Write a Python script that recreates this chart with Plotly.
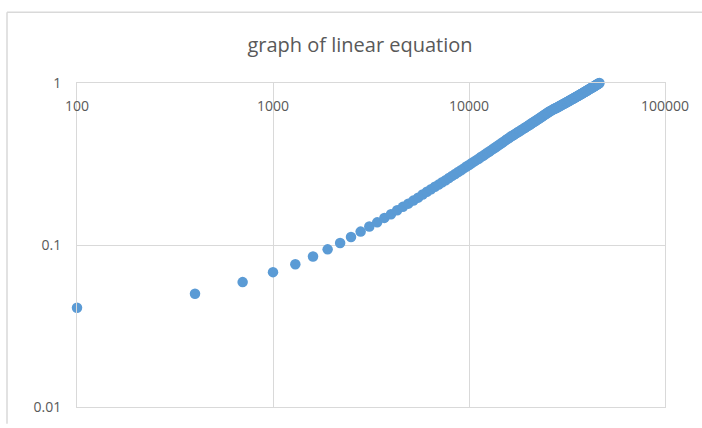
import math
import plotly.graph_objects as go

x_values = [
    100, 400, 700, 1000, 1300, 1600, 1900, 2200, 2500, 2800,
    3100, 3400, 3700, 4000, 4300, 4600, 4900, 5200, 5500, 5800,
    6100, 6400, 6700, 7000, 7300, 7600, 7900, 8200, 8500, 8800,
    9100, 9400, 9700, 10000, 10300, 10600, 10900, 11200, 11500, 11800,
    12100, 12400, 12700, 13000, 13300, 13600, 13900, 14200, 14500, 14800,
    15100, 15400, 15700, 16000, 16300, 16600, 16900, 17200, 17500, 17800,
    18100, 18400, 18700, 19000, 19300, 19600, 19900, 20200, 20500, 20800,
    21100, 21400, 21700, 22000, 22300, 22600, 22900, 23200, 23500, 23800,
    24100, 24400, 24700, 25000, 25300, 25600, 25900, 26200, 26500, 26800,
    27100, 27400, 27700, 28000, 28300, 28600, 28900, 29200, 29500, 29800,
    30100, 30400, 30700, 31000, 31300, 31600, 31900, 32200, 32500, 32800,
    33100, 33400, 33700, 34000, 34300, 34600, 34900, 35200, 35500, 35800,
    36100, 36400, 36700, 37000, 37300, 37600, 37900, 38200, 38500, 38800,
    39100, 39400, 39700, 40000, 40300, 40600, 40900, 41200, 41500, 41800,
    42100, 42400, 42700, 43000, 43300, 43600, 43900, 44200, 44500, 44800,
    45100, 45400, 45700, 46000, 46300,
]

y_values = [
    0.041, 0.050, 0.059, 0.068, 0.076, 0.085, 0.094, 0.103, 0.112, 0.121,
    0.130, 0.138, 0.147, 0.155, 0.164, 0.172, 0.180, 0.188, 0.196, 0.205,
    0.213, 0.221, 0.229, 0.236, 0.244, 0.251, 0.259, 0.267, 0.274, 0.282,
    0.289, 0.297, 0.305, 0.312, 0.320, 0.327, 0.334, 0.341, 0.349, 0.356,
    0.363, 0.371, 0.378, 0.385, 0.393, 0.400, 0.407, 0.414, 0.422, 0.429,
    0.436, 0.444, 0.451, 0.458, 0.466, 0.472, 0.478, 0.485, 0.491, 0.498,
    0.504, 0.510, 0.517, 0.523, 0.530, 0.536, 0.542, 0.549, 0.555, 0.562,
    0.568, 0.574, 0.581, 0.587, 0.594, 0.600, 0.606, 0.613, 0.619, 0.626,
    0.632, 0.638, 0.645, 0.651, 0.658, 0.664, 0.670, 0.675, 0.680, 0.685,
    0.690, 0.695, 0.699, 0.704, 0.709, 0.714, 0.719, 0.724, 0.729, 0.733,
    0.738, 0.743, 0.748, 0.753, 0.758, 0.762, 0.767, 0.772, 0.777, 0.782,
    0.787, 0.792, 0.796, 0.801, 0.806, 0.811, 0.816, 0.821, 0.826, 0.830,
    0.835, 0.840, 0.845, 0.850, 0.855, 0.859, 0.864, 0.869, 0.874, 0.879,
    0.884, 0.889, 0.893, 0.898, 0.903, 0.908, 0.913, 0.918, 0.923, 0.927,
    0.932, 0.937, 0.942, 0.947, 0.952, 0.956, 0.961, 0.966, 0.971, 0.976,
    0.981, 0.986, 0.990, 0.995, 1.000,
]

x_tick_vals = [100, 1000, 10000, 100000]
x_tick_text = ["100", "1000", "10000", "100000"]
y_tick_vals = [0.01, 0.1, 1]
y_tick_text = ["0.01", "0.1", "1"]

title_text = "graph of linear equation"

FONT = "'Open Sans', Lato, sans-serif"
GRID = "#d9d9d9"
TEXT = "#595959"

fig = go.Figure()
fig.add_trace(go.Scatter(
    x=x_values, y=y_values, mode="markers",
    marker=dict(color="#5b9bd5", size=10.5, line=dict(width=0)),
    cliponaxis=False, showlegend=False,
))

# x tick labels sit inside the plot, just under the top frame (axis crosses at y=1)
annotations = [
    dict(x=math.log10(v), y=1, xref="x", yref="paper", text=t,
         showarrow=False, xanchor="center", yanchor="middle", yshift=-22,
         font=dict(size=14, color=TEXT, family=FONT))
    for v, t in zip(x_tick_vals, x_tick_text)
]

fig.update_layout(
    width=702, height=428,
    margin=dict(l=77, r=37, t=83, b=15),
    paper_bgcolor="white", plot_bgcolor="white",
    font=dict(family=FONT, color=TEXT, size=14),
    title=dict(text=title_text, x=360 / 702, xref="container", xanchor="center",
               y=1 - 45 / 428, yref="container", yanchor="middle",
               font=dict(size=20, color=TEXT, family=FONT)),
    xaxis=dict(type="log", range=[2, 5],
               tickvals=x_tick_vals, showticklabels=False, ticks="",
               showgrid=True, gridcolor=GRID, gridwidth=1,
               showline=True, linecolor=GRID, linewidth=1, mirror=True,
               zeroline=False),
    yaxis=dict(type="log", range=[-2, 0],
               tickvals=y_tick_vals, ticktext=y_tick_text, ticks="",
               ticklabelstandoff=12,
               showgrid=True, gridcolor=GRID, gridwidth=1,
               showline=True, linecolor=GRID, linewidth=1, mirror=True,
               zeroline=False, tickfont=dict(size=14, color=TEXT)),
    annotations=annotations,
    shapes=[
        dict(type="line", xref="paper", yref="paper",
             x0=(7 - 77) / 588, x1=(702 - 77) / 588,
             y0=(413 - 11) / 330, y1=(413 - 11) / 330,
             line=dict(color=GRID, width=1.5)),
        dict(type="line", xref="paper", yref="paper",
             x0=(7 - 77) / 588, x1=(7 - 77) / 588,
             y0=(413 - 11) / 330, y1=(413 - 430) / 330,
             line=dict(color=GRID, width=1.5)),
    ],
)

fig.write_html("out.html")
